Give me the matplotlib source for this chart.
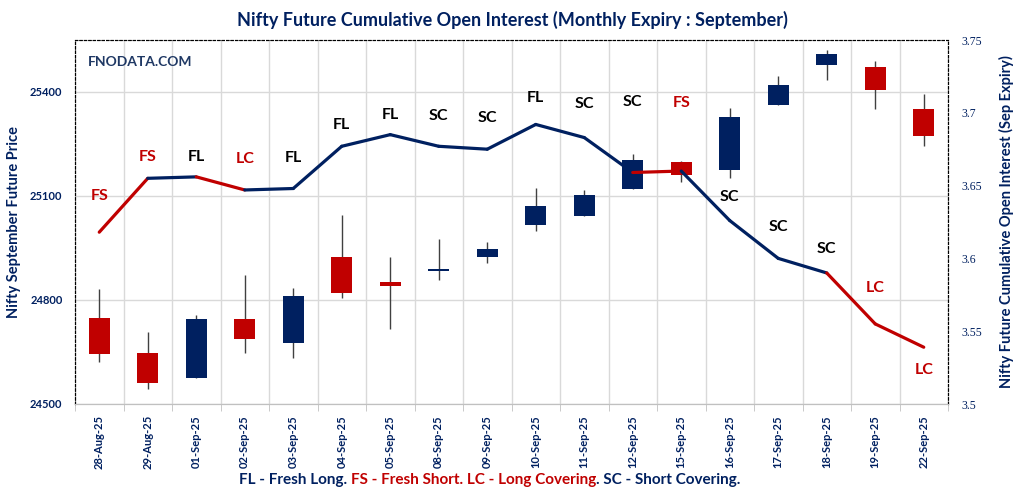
import matplotlib
matplotlib.use("Agg")
import matplotlib.pyplot as plt
import numpy as np

#----------- Data -----------#
dates = ["28-Aug-25", "29-Aug-25", "01-Sep-25", "02-Sep-25", "03-Sep-25", "04-Sep-25",
         "05-Sep-25", "08-Sep-25", "09-Sep-25", "10-Sep-25", "11-Sep-25", "12-Sep-25",
         "15-Sep-25", "16-Sep-25", "17-Sep-25", "18-Sep-25", "19-Sep-25", "22-Sep-25"]

opens  = [24749, 24647, 24576, 24745, 24677, 24924, 24851, 24885, 24925,
          25017, 25043, 25121, 25198, 25176, 25363, 25477, 25472, 25351]
closes = [24645, 24561, 24745, 24688, 24812, 24820, 24841, 24889, 24947,
          25071, 25103, 25204, 25162, 25328, 25420, 25510, 25406, 25273]
highs  = [24832, 24708, 24757, 24872, 24834, 25044, 24923, 24975, 24967,
          25122, 25117, 25220, 25200, 25353, 25446, 25520, 25490, 25393]
lows   = [24622, 24542, 24576, 24646, 24634, 24805, 24715, 24858, 24906,
          24998, 25043, 25121, 25141, 25151, 25363, 25434, 25350, 25245]

# cumulative OI (crore)
oi = [3.618, 3.655, 3.656, 3.647, 3.648, 3.677, 3.685, 3.677, 3.675,
      3.692, 3.683, 3.659, 3.660, 3.626, 3.600, 3.590, 3.555, 3.539]

tags = ["FS", "FS", "FL", "LC", "FL", "FL", "FL", "SC", "SC",
        "FL", "SC", "SC", "FS", "SC", "SC", "SC", "LC", "LC"]

# label offset from the OI point, pixels (layout only)
tag_off = [36, 21, 20, 31, 31, 21, 20, 30, 31, 26, 34, 70, 68, 24, 31, 24, 36, -23]

#----------- Style -----------#
NAVY = "#002060"
RED = "#C00000"
plt.rcParams['font.family'] = ['Lato', 'DejaVu Sans']

fig = plt.figure(figsize=(10.24, 4.94), dpi=100)
ax = fig.add_axes([75/1024, 90/494, 873/1024, 364/494])
ax2 = ax.twinx()

x = np.arange(len(dates))

# candles
for i in x:
    up = closes[i] >= opens[i]
    col = NAVY if up else RED
    ax.vlines(i, lows[i], highs[i], color="#404040", lw=1, zorder=2)
    bot = min(opens[i], closes[i])
    h = max(abs(closes[i] - opens[i]), 4)
    ax.bar(i, h, bottom=bot, width=0.43, color=col, zorder=3)

ax.set_xlim(-0.5, len(dates) - 0.5)
ax.set_ylim(24500, 25550)
ax.set_yticks([24500, 24800, 25100, 25400])
ax.set_xticks(x)
ax.set_xticklabels(dates, rotation=90, fontsize=8, fontweight="bold", color=NAVY)
ax.set_xticks(np.arange(-0.5, len(dates)), minor=True)
ax.tick_params(axis="x", which="major", length=0, pad=8)
ax.tick_params(axis="x", which="minor", length=5, color="#c0c0c0")
ax.tick_params(axis="y", length=0, labelsize=8, labelcolor=NAVY, pad=9)
for t in ax.get_yticklabels():
    t.set_fontweight("bold")
ax.grid(True, axis="y", color="#d9d9d9", lw=1)
ax.grid(True, axis="x", which="minor", color="#d9d9d9", lw=1)
ax.set_axisbelow(True)
ax.set_ylabel("Nifty September Future Price", fontsize=10.5, fontweight="bold", color=NAVY)
ax.yaxis.set_label_coords(-54/873, 0.5)

# OI line, segments coloured by tag of the end point
for i in range(1, len(oi)):
    col = RED if tags[i] in ("FS", "LC") else NAVY
    ax2.plot([i - 1, i], [oi[i - 1], oi[i]], color=col, lw=2.3,
             solid_capstyle="round", zorder=4)
for i in x:
    col = RED if tags[i] in ("FS", "LC") else "black"
    ax2.annotate(tags[i], (i, oi[i]), xytext=(0, tag_off[i]), textcoords="offset pixels",
                 ha="center", va="center", fontsize=11.5, fontweight="bold", color=col)

ax2.set_ylim(3.5, 3.75)
ax2.set_yticks([3.5, 3.55, 3.6, 3.65, 3.7, 3.75])
ax2.set_yticklabels(["3.5", "3.55", "3.6", "3.65", "3.7", "3.75"],
                    family="Liberation Serif", fontsize=8.5, color=NAVY)
ax2.tick_params(axis="y", length=0, pad=10)
ax2.set_ylabel("Nifty Future Cumulative Open Interest (Sep Expiry)", fontsize=10.5,
               fontweight="bold", color=NAVY, rotation=90)
ax2.yaxis.set_label_coords(1 + 51/873, 0.5)

for a in (ax, ax2):
    for s in ("top", "left", "right"):
        a.spines[s].set_linestyle((0, (2, 2)))
        a.spines[s].set_linewidth(0.8)
        a.spines[s].set_color("black")
    a.spines["bottom"].set_color("#c0c0c0")

fig.text(512/1024, 1 - 20/494, "Nifty Future Cumulative Open Interest (Monthly Expiry : September)",
         ha="center", va="center", fontsize=13, fontweight="bold", color=NAVY)
ax.text(0.015, 0.94, "FNODATA.COM", transform=ax.transAxes, fontsize=10,
        fontweight="bold", color="#1f3864", va="center", zorder=5)

# bottom legend, coloured pieces
pieces = [("FL - Fresh Long. ", NAVY), ("FS - Fresh Short. LC - Long Covering", RED),
          (". SC - Short Covering.", NAVY)]
fig.canvas.draw()
r = fig.canvas.get_renderer()
objs = []
for s, c in pieces:
    t = fig.text(0, 1 - 480/494, s, fontsize=11, fontweight="bold", color=c, va="center")
    objs.append(t)
ws = [t.get_window_extent(r).width for t in objs]
xpos = 490 - sum(ws) / 2
for t, w in zip(objs, ws):
    t.set_x(xpos / 1024)
    xpos += w

fig.savefig("out.png", dpi=100)
